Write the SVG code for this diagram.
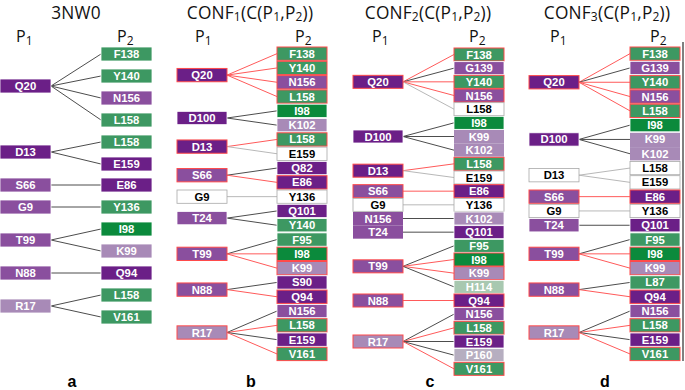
<svg xmlns="http://www.w3.org/2000/svg" width="685" height="390" viewBox="0 0 685 390">
<style>
rect{stroke:#ffffff;stroke-width:0.8}
.dp{fill:#6b1f87}.mp{fill:#8a4f9e}.lp{fill:#a88ab7}.g{fill:#3d9862}.dg{fill:#0b8a3c}.w{fill:#ffffff;stroke:#a8a8a8}.hg{fill:#a8c8b0}.pg{fill:#b6aec0}
rect.r{stroke:#ff4a4a;stroke-width:1}
text{font-family:"Liberation Sans",Arial,sans-serif;font-weight:bold;font-size:11.3px;text-anchor:middle;fill:#ffffff}
text.k{fill:#000000}
.ttl{font-family:"Open Sans","Noto Sans",sans-serif;font-weight:normal;font-size:17.3px;letter-spacing:0.2px;fill:#111}
.pl{font-family:"Open Sans","Noto Sans",sans-serif;font-weight:normal;font-size:16px;fill:#111;text-anchor:start}
.lab{font-size:16px;fill:#000}
line{stroke-width:1}
.D{stroke:#4d4d4d}.L{stroke:#b8b8b8}.R{stroke:#ff5a5a}
</style>
<g id="titles">
<text class="ttl" x="76" y="18.7">3NW0</text>
<text class="ttl" x="250" y="18.7">CONF<tspan font-size="12" dy="2">1</tspan><tspan dy="-2">(C(P</tspan><tspan font-size="12" dy="2">1</tspan><tspan dy="-2">,P</tspan><tspan font-size="12" dy="2">2</tspan><tspan dy="-2">))</tspan></text>
<text class="ttl" x="428" y="18.7">CONF<tspan font-size="12" dy="2">2</tspan><tspan dy="-2">(C(P</tspan><tspan font-size="12" dy="2">1</tspan><tspan dy="-2">,P</tspan><tspan font-size="12" dy="2">2</tspan><tspan dy="-2">))</tspan></text>
<text class="ttl" x="607" y="18.7">CONF<tspan font-size="12" dy="2">3</tspan><tspan dy="-2">(C(P</tspan><tspan font-size="12" dy="2">1</tspan><tspan dy="-2">,P</tspan><tspan font-size="12" dy="2">2</tspan><tspan dy="-2">))</tspan></text>
<text class="pl" x="16" y="41.5">P<tspan font-size="12" dy="3.5">1</tspan></text>
<text class="pl" x="117" y="41.5">P<tspan font-size="12" dy="3.5">2</tspan></text>
<text class="pl" x="195" y="41.5">P<tspan font-size="12" dy="3.5">1</tspan></text>
<text class="pl" x="295" y="41.5">P<tspan font-size="12" dy="3.5">2</tspan></text>
<text class="pl" x="372" y="41.5">P<tspan font-size="12" dy="3.5">1</tspan></text>
<text class="pl" x="469" y="41.5">P<tspan font-size="12" dy="3.5">2</tspan></text>
<text class="pl" x="550" y="41.5">P<tspan font-size="12" dy="3.5">1</tspan></text>
<text class="pl" x="650" y="41.5">P<tspan font-size="12" dy="3.5">2</tspan></text>
<text class="lab" x="72" y="387">a</text>
<text class="lab" x="251" y="387">b</text>
<text class="lab" x="430" y="387">c</text>
<text class="lab" x="605" y="387">d</text>
</g>
<g id="connectors">
<!-- panel a -->
<line class="D" x1="51" y1="86" x2="101" y2="54"/>
<line class="D" x1="51" y1="86" x2="101" y2="76"/>
<line class="D" x1="51" y1="86" x2="101" y2="98"/>
<line class="D" x1="51" y1="86" x2="101" y2="120"/>
<line class="D" x1="51" y1="152" x2="101" y2="142"/>
<line class="D" x1="51" y1="152" x2="101" y2="164"/>
<line class="D" x1="51" y1="185" x2="101" y2="185"/>
<line class="D" x1="51" y1="207" x2="101" y2="207"/>
<line class="D" x1="51" y1="240" x2="101" y2="229"/>
<line class="D" x1="51" y1="240" x2="101" y2="251"/>
<line class="D" x1="51" y1="273" x2="101" y2="273"/>
<line class="D" x1="51" y1="306" x2="101" y2="295"/>
<line class="D" x1="51" y1="306" x2="101" y2="317"/>
<!-- panel b -->
<line class="R" x1="227" y1="75.1" x2="277" y2="53.65"/>
<line class="R" x1="227" y1="75.1" x2="277" y2="67.95"/>
<line class="R" x1="227" y1="75.1" x2="277" y2="82.25"/>
<line class="R" x1="227" y1="75.1" x2="277" y2="96.55"/>
<line class="D" x1="227" y1="118" x2="277" y2="110.85"/>
<line class="D" x1="227" y1="118" x2="277" y2="125.15"/>
<line class="R" x1="227" y1="146.6" x2="277" y2="139.45"/>
<line class="L" x1="227" y1="146.6" x2="277" y2="153.75"/>
<line class="D" x1="227" y1="175.2" x2="277" y2="168.05"/>
<line class="R" x1="227" y1="175.2" x2="277" y2="182.35"/>
<line class="L" x1="227" y1="196.65" x2="277" y2="196.65"/>
<line class="D" x1="227" y1="218.1" x2="277" y2="210.95"/>
<line class="D" x1="227" y1="218.1" x2="277" y2="225.25"/>
<line class="D" x1="227" y1="253.85" x2="277" y2="239.55"/>
<line class="R" x1="227" y1="253.85" x2="277" y2="253.85"/>
<line class="R" x1="227" y1="253.85" x2="277" y2="268.15"/>
<line class="D" x1="227" y1="289.6" x2="277" y2="282.45"/>
<line class="R" x1="227" y1="289.6" x2="277" y2="296.75"/>
<line class="D" x1="227" y1="332.5" x2="277" y2="311.05"/>
<line class="R" x1="227" y1="332.5" x2="277" y2="325.35"/>
<line class="D" x1="227" y1="332.5" x2="277" y2="339.65"/>
<line class="R" x1="227" y1="332.5" x2="277" y2="353.95"/>
<!-- panel c -->
<line class="R" x1="403" y1="81.83" x2="454" y2="54.5"/>
<line class="D" x1="403" y1="81.83" x2="454" y2="68.17"/>
<line class="R" x1="403" y1="81.83" x2="454" y2="81.83"/>
<line class="R" x1="403" y1="81.83" x2="454" y2="95.5"/>
<line class="L" x1="403" y1="81.83" x2="454" y2="109.17"/>
<line class="D" x1="403" y1="136.5" x2="454" y2="122.83"/>
<line class="D" x1="403" y1="136.5" x2="454" y2="136.5"/>
<line class="D" x1="403" y1="136.5" x2="454" y2="150.17"/>
<line class="R" x1="403" y1="170.67" x2="454" y2="163.83"/>
<line class="L" x1="403" y1="170.67" x2="454" y2="177.5"/>
<line class="R" x1="403" y1="191.17" x2="454" y2="191.17"/>
<line class="L" x1="403" y1="204.83" x2="454" y2="204.83"/>
<line class="D" x1="403" y1="218.5" x2="454" y2="218.5"/>
<line class="D" x1="403" y1="232.17" x2="454" y2="232.17"/>
<line class="D" x1="403" y1="266.33" x2="454" y2="245.83"/>
<line class="R" x1="403" y1="266.33" x2="454" y2="259.5"/>
<line class="R" x1="403" y1="266.33" x2="454" y2="273.17"/>
<line class="D" x1="403" y1="266.33" x2="454" y2="286.83"/>
<line class="R" x1="403" y1="300.5" x2="454" y2="300.5"/>
<line class="D" x1="403" y1="341.5" x2="454" y2="314.17"/>
<line class="R" x1="403" y1="341.5" x2="454" y2="327.83"/>
<line class="D" x1="403" y1="341.5" x2="454" y2="341.5"/>
<line class="D" x1="403" y1="341.5" x2="454" y2="355.17"/>
<line class="R" x1="403" y1="341.5" x2="454" y2="368.83"/>
<!-- panel d -->
<line class="R" x1="579" y1="82.25" x2="630" y2="53.65"/>
<line class="D" x1="579" y1="82.25" x2="630" y2="67.95"/>
<line class="R" x1="579" y1="82.25" x2="630" y2="82.25"/>
<line class="R" x1="579" y1="82.25" x2="630" y2="96.55"/>
<line class="R" x1="579" y1="82.25" x2="630" y2="110.85"/>
<line class="D" x1="579" y1="139.45" x2="630" y2="125.15"/>
<line class="D" x1="579" y1="139.45" x2="630" y2="139.45"/>
<line class="D" x1="579" y1="139.45" x2="630" y2="153.75"/>
<line class="L" x1="579" y1="175.2" x2="630" y2="168.05"/>
<line class="L" x1="579" y1="175.2" x2="630" y2="182.35"/>
<line class="R" x1="579" y1="196.65" x2="630" y2="196.65"/>
<line class="L" x1="579" y1="210.95" x2="630" y2="210.95"/>
<line class="D" x1="579" y1="225.25" x2="630" y2="225.25"/>
<line class="D" x1="579" y1="253.85" x2="630" y2="239.55"/>
<line class="R" x1="579" y1="253.85" x2="630" y2="253.85"/>
<line class="R" x1="579" y1="253.85" x2="630" y2="268.15"/>
<line class="D" x1="579" y1="289.6" x2="630" y2="282.45"/>
<line class="R" x1="579" y1="289.6" x2="630" y2="296.75"/>
<line class="D" x1="579" y1="332.5" x2="630" y2="311.05"/>
<line class="R" x1="579" y1="332.5" x2="630" y2="325.35"/>
<line class="D" x1="579" y1="332.5" x2="630" y2="339.65"/>
<line class="R" x1="579" y1="332.5" x2="630" y2="353.95"/>
<line x1="683" y1="42" x2="683" y2="361" stroke="#000" stroke-width="1.5"/>
</g>
<!-- panel a nodes -->
<g id="a-p1-Q20"><rect class="dp" x="0" y="79" width="51" height="14"/><text x="25.5" y="90">Q20</text></g>
<g id="a-p1-D13"><rect class="dp" x="0" y="145" width="51" height="14"/><text x="25.5" y="156">D13</text></g>
<g id="a-p1-S66"><rect class="mp" x="0" y="178" width="51" height="14"/><text x="25.5" y="189">S66</text></g>
<g id="a-p1-G9"><rect class="mp" x="0" y="200" width="51" height="14"/><text x="25.5" y="211">G9</text></g>
<g id="a-p1-T99"><rect class="mp" x="0" y="233" width="51" height="14"/><text x="25.5" y="244">T99</text></g>
<g id="a-p1-N88"><rect class="mp" x="0" y="266" width="51" height="14"/><text x="25.5" y="277">N88</text></g>
<g id="a-p1-R17"><rect class="lp" x="0" y="299" width="51" height="14"/><text x="25.5" y="310">R17</text></g>
<g id="a-p2-F138"><rect class="g" x="101" y="47" width="51" height="14"/><text x="126.5" y="58">F138</text></g>
<g id="a-p2-Y140"><rect class="g" x="101" y="69" width="51" height="14"/><text x="126.5" y="80">Y140</text></g>
<g id="a-p2-N156"><rect class="mp" x="101" y="91" width="51" height="14"/><text x="126.5" y="102">N156</text></g>
<g id="a-p2-L158a"><rect class="g" x="101" y="113" width="51" height="14"/><text x="126.5" y="124">L158</text></g>
<g id="a-p2-L158b"><rect class="g" x="101" y="135" width="51" height="14"/><text x="126.5" y="146">L158</text></g>
<g id="a-p2-E159"><rect class="dp" x="101" y="157" width="51" height="14"/><text x="126.5" y="168">E159</text></g>
<g id="a-p2-E86"><rect class="dp" x="101" y="178" width="51" height="14"/><text x="126.5" y="189">E86</text></g>
<g id="a-p2-Y136"><rect class="g" x="101" y="200" width="51" height="14"/><text x="126.5" y="211">Y136</text></g>
<g id="a-p2-I98"><rect class="dg" x="101" y="222" width="51" height="14"/><text x="126.5" y="233">I98</text></g>
<g id="a-p2-K99"><rect class="lp" x="101" y="244" width="51" height="14"/><text x="126.5" y="255">K99</text></g>
<g id="a-p2-Q94"><rect class="dp" x="101" y="266" width="51" height="14"/><text x="126.5" y="277">Q94</text></g>
<g id="a-p2-L158c"><rect class="g" x="101" y="288" width="51" height="14"/><text x="126.5" y="299">L158</text></g>
<g id="a-p2-V161"><rect class="g" x="101" y="310" width="51" height="14"/><text x="126.5" y="321">V161</text></g>
<!-- panel b nodes -->
<g id="b-p1-Q20"><rect class="dp r" x="177" y="68.45" width="50" height="13.3"/><text x="202" y="79">Q20</text></g>
<g id="b-p1-D100"><rect class="dp" x="177" y="111.35" width="50" height="13.3"/><text x="202" y="122">D100</text></g>
<g id="b-p1-D13"><rect class="dp r" x="177" y="139.95" width="50" height="13.3"/><text x="202" y="150.6">D13</text></g>
<g id="b-p1-S66"><rect class="mp r" x="177" y="168.55" width="50" height="13.3"/><text x="202" y="179.2">S66</text></g>
<g id="b-p1-G9"><rect class="w" x="177" y="190" width="50" height="13.3"/><text class="k" x="202" y="200.65">G9</text></g>
<g id="b-p1-T24"><rect class="mp" x="177" y="211.45" width="50" height="13.3"/><text x="202" y="222.1">T24</text></g>
<g id="b-p1-T99"><rect class="mp r" x="177" y="247.2" width="50" height="13.3"/><text x="202" y="257.85">T99</text></g>
<g id="b-p1-N88"><rect class="mp r" x="177" y="282.95" width="50" height="13.3"/><text x="202" y="293.6">N88</text></g>
<g id="b-p1-R17"><rect class="lp r" x="177" y="325.85" width="50" height="13.3"/><text x="202" y="336.5">R17</text></g>
<g id="b-p2-F138"><rect class="g r" x="277" y="47" width="50" height="13.3"/><text x="302" y="57.65">F138</text></g>
<g id="b-p2-Y140a"><rect class="g r" x="277" y="61.3" width="50" height="13.3"/><text x="302" y="71.95">Y140</text></g>
<g id="b-p2-N156a"><rect class="mp r" x="277" y="75.6" width="50" height="13.3"/><text x="302" y="86.25">N156</text></g>
<g id="b-p2-L158a"><rect class="g r" x="277" y="89.9" width="50" height="13.3"/><text x="302" y="100.55">L158</text></g>
<g id="b-p2-I98a"><rect class="dg" x="277" y="104.2" width="50" height="13.3"/><text x="302" y="114.85">I98</text></g>
<g id="b-p2-K102"><rect class="lp" x="277" y="118.5" width="50" height="13.3"/><text x="302" y="129.15">K102</text></g>
<g id="b-p2-L158b"><rect class="g r" x="277" y="132.8" width="50" height="13.3"/><text x="302" y="143.45">L158</text></g>
<g id="b-p2-E159a"><rect class="w" x="277" y="147.1" width="50" height="13.3"/><text class="k" x="302" y="157.75">E159</text></g>
<g id="b-p2-Q82"><rect class="dp" x="277" y="161.4" width="50" height="13.3"/><text x="302" y="172.05">Q82</text></g>
<g id="b-p2-E86"><rect class="dp r" x="277" y="175.7" width="50" height="13.3"/><text x="302" y="186.35">E86</text></g>
<g id="b-p2-Y136"><rect class="w" x="277" y="190" width="50" height="13.3"/><text class="k" x="302" y="200.65">Y136</text></g>
<g id="b-p2-Q101"><rect class="dp" x="277" y="204.3" width="50" height="13.3"/><text x="302" y="214.95">Q101</text></g>
<g id="b-p2-Y140b"><rect class="g" x="277" y="218.6" width="50" height="13.3"/><text x="302" y="229.25">Y140</text></g>
<g id="b-p2-F95"><rect class="g" x="277" y="232.9" width="50" height="13.3"/><text x="302" y="243.55">F95</text></g>
<g id="b-p2-I98b"><rect class="dg r" x="277" y="247.2" width="50" height="13.3"/><text x="302" y="257.85">I98</text></g>
<g id="b-p2-K99"><rect class="lp r" x="277" y="261.5" width="50" height="13.3"/><text x="302" y="272.15">K99</text></g>
<g id="b-p2-S90"><rect class="dp" x="277" y="275.8" width="50" height="13.3"/><text x="302" y="286.45">S90</text></g>
<g id="b-p2-Q94"><rect class="dp r" x="277" y="290.1" width="50" height="13.3"/><text x="302" y="300.75">Q94</text></g>
<g id="b-p2-N156b"><rect class="mp" x="277" y="304.4" width="50" height="13.3"/><text x="302" y="315.05">N156</text></g>
<g id="b-p2-L158c"><rect class="g r" x="277" y="318.7" width="50" height="13.3"/><text x="302" y="329.35">L158</text></g>
<g id="b-p2-E159b"><rect class="dp" x="277" y="333" width="50" height="13.3"/><text x="302" y="343.65">E159</text></g>
<g id="b-p2-V161"><rect class="g r" x="277" y="347.3" width="50" height="13.3"/><text x="302" y="357.95">V161</text></g>
<!-- panel c nodes -->
<g id="c-p1-Q20"><rect class="dp r" x="353" y="75.33" width="50" height="13"/><text x="378" y="85.83">Q20</text></g>
<g id="c-p1-D100"><rect class="dp" x="353" y="130" width="50" height="13"/><text x="378" y="140.5">D100</text></g>
<g id="c-p1-D13"><rect class="dp r" x="353" y="164.17" width="50" height="13"/><text x="378" y="174.67">D13</text></g>
<g id="c-p1-S66"><rect class="mp r" x="353" y="184.67" width="50" height="13"/><text x="378" y="195.17">S66</text></g>
<g id="c-p1-G9"><rect class="w" x="353" y="198.33" width="50" height="13"/><text class="k" x="378" y="208.83">G9</text></g>
<g id="c-p1-N156"><rect class="mp" x="353" y="212" width="50" height="13.67" style="stroke:none"/><text x="378" y="222.5">N156</text></g>
<g id="c-p1-T24"><rect class="mp" x="353" y="225.67" width="50" height="13" style="stroke:none"/><text x="378" y="236.17">T24</text></g>
<g id="c-p1-T99"><rect class="mp r" x="353" y="259.83" width="50" height="13"/><text x="378" y="270.33">T99</text></g>
<g id="c-p1-N88"><rect class="mp r" x="353" y="294" width="50" height="13"/><text x="378" y="304.5">N88</text></g>
<g id="c-p1-R17"><rect class="lp r" x="353" y="335" width="50" height="13"/><text x="378" y="345.5">R17</text></g>
<g id="c-p2-F138"><rect class="g r" x="454" y="48" width="50" height="13"/><text x="479" y="58.5">F138</text></g>
<g id="c-p2-G139"><rect class="mp" x="454" y="61.67" width="50" height="13"/><text x="479" y="72.17">G139</text></g>
<g id="c-p2-Y140"><rect class="g r" x="454" y="75.33" width="50" height="13"/><text x="479" y="85.83">Y140</text></g>
<g id="c-p2-N156a"><rect class="mp r" x="454" y="89" width="50" height="13"/><text x="479" y="99.5">N156</text></g>
<g id="c-p2-L158a"><rect class="w" x="454" y="102.67" width="50" height="13"/><text class="k" x="479" y="113.17">L158</text></g>
<g id="c-p2-I98a"><rect class="dg" x="454" y="116.33" width="50" height="13"/><text x="479" y="126.83">I98</text></g>
<g id="c-p2-K99a"><rect class="lp" x="454" y="130" width="50" height="13.67" style="stroke:none"/><text x="479" y="140.5">K99</text></g>
<g id="c-p2-K102a"><rect class="lp" x="454" y="143.67" width="50" height="13" style="stroke:none"/><text x="479" y="154.17">K102</text></g>
<g id="c-p2-L158b"><rect class="g r" x="454" y="157.33" width="50" height="13"/><text x="479" y="167.83">L158</text></g>
<g id="c-p2-E159a"><rect class="w" x="454" y="171" width="50" height="13"/><text class="k" x="479" y="181.5">E159</text></g>
<g id="c-p2-E86"><rect class="dp r" x="454" y="184.67" width="50" height="13"/><text x="479" y="195.17">E86</text></g>
<g id="c-p2-Y136"><rect class="w" x="454" y="198.33" width="50" height="13"/><text class="k" x="479" y="208.83">Y136</text></g>
<g id="c-p2-K102b"><rect class="lp" x="454" y="212" width="50" height="13"/><text x="479" y="222.5">K102</text></g>
<g id="c-p2-Q101"><rect class="dp" x="454" y="225.67" width="50" height="13"/><text x="479" y="236.17">Q101</text></g>
<g id="c-p2-F95"><rect class="g" x="454" y="239.33" width="50" height="13"/><text x="479" y="249.83">F95</text></g>
<g id="c-p2-I98b"><rect class="dg r" x="454" y="253" width="50" height="13"/><text x="479" y="263.5">I98</text></g>
<g id="c-p2-K99b"><rect class="lp r" x="454" y="266.67" width="50" height="13"/><text x="479" y="277.17">K99</text></g>
<g id="c-p2-H114"><rect class="hg" x="454" y="280.33" width="50" height="13"/><text x="479" y="290.83">H114</text></g>
<g id="c-p2-Q94"><rect class="dp r" x="454" y="294" width="50" height="13"/><text x="479" y="304.5">Q94</text></g>
<g id="c-p2-N156b"><rect class="mp" x="454" y="307.67" width="50" height="13"/><text x="479" y="318.17">N156</text></g>
<g id="c-p2-L158c"><rect class="g r" x="454" y="321.33" width="50" height="13"/><text x="479" y="331.83">L158</text></g>
<g id="c-p2-E159b"><rect class="dp" x="454" y="335" width="50" height="13"/><text x="479" y="345.5">E159</text></g>
<g id="c-p2-P160"><rect class="pg" x="454" y="348.67" width="50" height="13"/><text x="479" y="359.17">P160</text></g>
<g id="c-p2-V161"><rect class="g r" x="454" y="362.33" width="50" height="13"/><text x="479" y="372.83">V161</text></g>
<!-- panel d nodes -->
<g id="d-p1-Q20"><rect class="dp r" x="529" y="75.6" width="50" height="13.3"/><text x="554" y="86.25">Q20</text></g>
<g id="d-p1-D100"><rect class="dp" x="529" y="132.8" width="50" height="13.3"/><text x="554" y="143.45">D100</text></g>
<g id="d-p1-D13"><rect class="w" x="529" y="168.55" width="50" height="13.3"/><text class="k" x="554" y="179.2">D13</text></g>
<g id="d-p1-S66"><rect class="mp r" x="529" y="190" width="50" height="13.3"/><text x="554" y="200.65">S66</text></g>
<g id="d-p1-G9"><rect class="w" x="529" y="204.3" width="50" height="13.3"/><text class="k" x="554" y="214.95">G9</text></g>
<g id="d-p1-T24"><rect class="mp" x="529" y="218.6" width="50" height="13.3"/><text x="554" y="229.25">T24</text></g>
<g id="d-p1-T99"><rect class="mp r" x="529" y="247.2" width="50" height="13.3"/><text x="554" y="257.85">T99</text></g>
<g id="d-p1-N88"><rect class="mp r" x="529" y="282.95" width="50" height="13.3"/><text x="554" y="293.6">N88</text></g>
<g id="d-p1-R17"><rect class="lp r" x="529" y="325.85" width="50" height="13.3"/><text x="554" y="336.5">R17</text></g>
<g id="d-p2-F138"><rect class="g r" x="630" y="47" width="50" height="13.3"/><text x="655" y="57.65">F138</text></g>
<g id="d-p2-G139"><rect class="mp" x="630" y="61.3" width="50" height="13.3"/><text x="655" y="71.95">G139</text></g>
<g id="d-p2-Y140"><rect class="g r" x="630" y="75.6" width="50" height="13.3"/><text x="655" y="86.25">Y140</text></g>
<g id="d-p2-N156a"><rect class="mp r" x="630" y="89.9" width="50" height="13.3"/><text x="655" y="100.55">N156</text></g>
<g id="d-p2-L158a"><rect class="g r" x="630" y="104.2" width="50" height="13.3"/><text x="655" y="114.85">L158</text></g>
<g id="d-p2-I98a"><rect class="dg" x="630" y="118.5" width="50" height="13.3"/><text x="655" y="129.15">I98</text></g>
<g id="d-p2-K99a"><rect class="lp" x="630" y="132.8" width="50" height="14.3" style="stroke:none"/><text x="655" y="143.45">K99</text></g>
<g id="d-p2-K102"><rect class="lp" x="630" y="147.1" width="50" height="13.3" style="stroke:none"/><text x="655" y="157.75">K102</text></g>
<g id="d-p2-L158b"><rect class="w" x="630" y="161.4" width="50" height="13.3"/><text class="k" x="655" y="172.05">L158</text></g>
<g id="d-p2-E159a"><rect class="w" x="630" y="175.7" width="50" height="13.3"/><text class="k" x="655" y="186.35">E159</text></g>
<g id="d-p2-E86"><rect class="dp r" x="630" y="190" width="50" height="13.3"/><text x="655" y="200.65">E86</text></g>
<g id="d-p2-Y136"><rect class="w" x="630" y="204.3" width="50" height="13.3"/><text class="k" x="655" y="214.95">Y136</text></g>
<g id="d-p2-Q101"><rect class="dp" x="630" y="218.6" width="50" height="13.3"/><text x="655" y="229.25">Q101</text></g>
<g id="d-p2-F95"><rect class="g" x="630" y="232.9" width="50" height="13.3"/><text x="655" y="243.55">F95</text></g>
<g id="d-p2-I98b"><rect class="dg r" x="630" y="247.2" width="50" height="13.3"/><text x="655" y="257.85">I98</text></g>
<g id="d-p2-K99b"><rect class="lp r" x="630" y="261.5" width="50" height="13.3"/><text x="655" y="272.15">K99</text></g>
<g id="d-p2-L87"><rect class="g" x="630" y="275.8" width="50" height="13.3"/><text x="655" y="286.45">L87</text></g>
<g id="d-p2-Q94"><rect class="dp r" x="630" y="290.1" width="50" height="13.3"/><text x="655" y="300.75">Q94</text></g>
<g id="d-p2-N156b"><rect class="mp" x="630" y="304.4" width="50" height="13.3"/><text x="655" y="315.05">N156</text></g>
<g id="d-p2-L158c"><rect class="g r" x="630" y="318.7" width="50" height="13.3"/><text x="655" y="329.35">L158</text></g>
<g id="d-p2-E159b"><rect class="dp" x="630" y="333" width="50" height="13.3"/><text x="655" y="343.65">E159</text></g>
<g id="d-p2-V161"><rect class="g r" x="630" y="347.3" width="50" height="13.3"/><text x="655" y="357.95">V161</text></g>
</svg>
